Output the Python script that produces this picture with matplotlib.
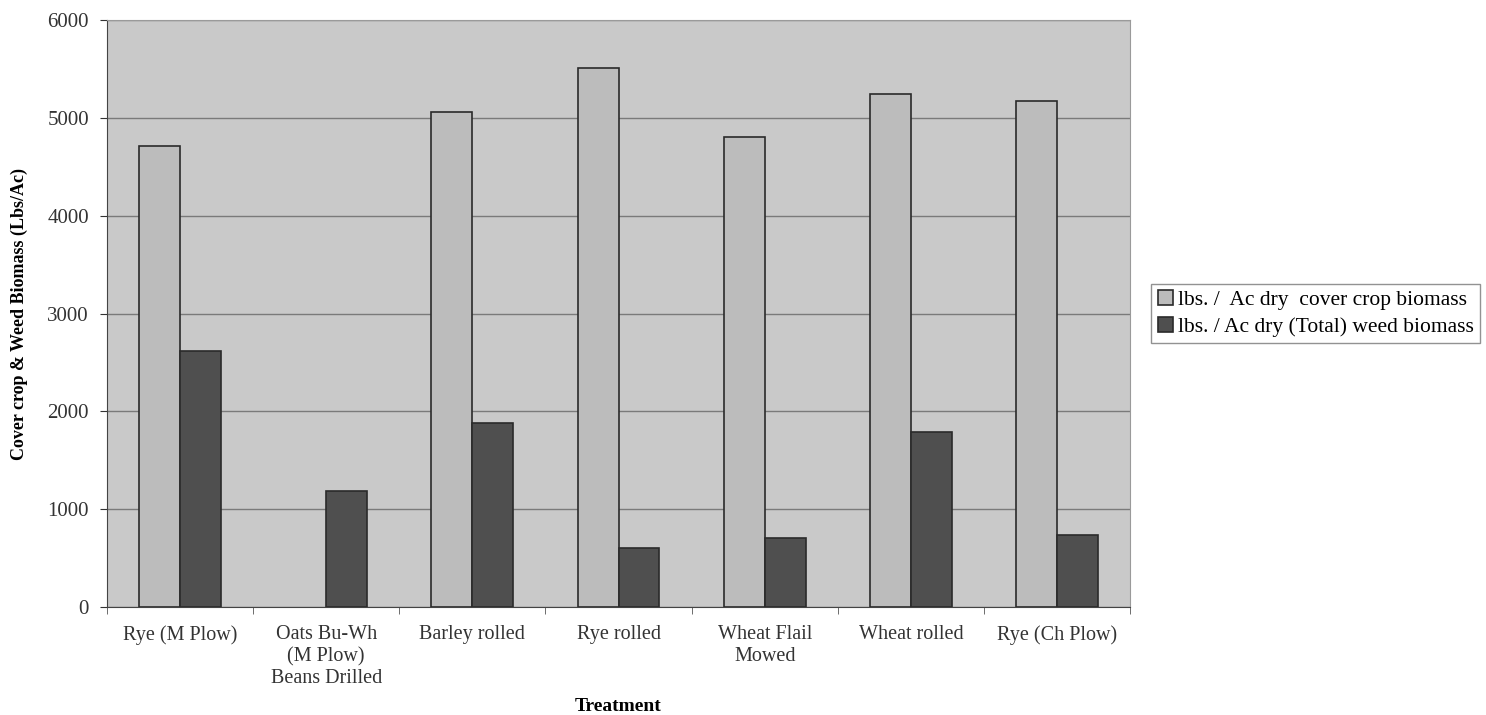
import numpy as np
import matplotlib.pyplot as plt

treatments = ['Rye (M Plow)', 'Oats Bu-Wh\n(M Plow)\nBeans Drilled', 'Barley rolled',
              'Rye rolled', 'Wheat Flail\nMowed', 'Wheat rolled', 'Rye (Ch Plow)']
cover_crop = [4710, 0, 5060, 5510, 4800, 5240, 5170]
weed = [2620, 1190, 1880, 600, 710, 1790, 740]

plt.rcParams['font.family'] = ['Liberation Serif', 'DejaVu Serif']

fig = plt.figure(figsize=(14.86, 7.15), dpi=100)
ax = fig.add_axes([0.072, 0.151, 0.6885, 0.821])
ax.set_facecolor('#c9c9c9')

x = np.arange(len(treatments))
w = 0.28
b1 = ax.bar(x - w / 2, cover_crop, w, color='#bcbcbc', edgecolor='#2a2a2a', linewidth=1.2,
            label='lbs. /  Ac dry  cover crop biomass', zorder=3)
b2 = ax.bar(x + w / 2, weed, w, color='#4f4f4f', edgecolor='#2a2a2a', linewidth=1.2,
            label='lbs. / Ac dry (Total) weed biomass', zorder=3)
# no outline for empty bars
for rect in list(b1) + list(b2):
    if rect.get_height() == 0:
        rect.set_visible(False)

ax.set_xlim(-0.5, len(treatments) - 0.5)
ax.set_ylim(0, 6000)
ax.set_yticks(range(0, 6001, 1000))
ax.yaxis.grid(True, color='#7a7a7a', linewidth=1.0, zorder=1)

ax.set_xticks(x)
ax.set_xticklabels(treatments, fontsize=14.5, color='#333333', linespacing=1.2)
ax.set_xticks(np.arange(-0.5, len(treatments)), minor=True)
ax.tick_params(axis='x', which='major', length=0, pad=13)
ax.tick_params(axis='x', which='minor', length=5, color='#555555')
ax.tick_params(axis='y', labelsize=15, length=5, colors='#333333', pad=8)

for side in ['top', 'right']:
    ax.spines[side].set_color('#9a9a9a')
for side in ['left', 'bottom']:
    ax.spines[side].set_color('#444444')

ax.set_xlabel('Treatment', fontsize=14, fontweight='bold')
ax.xaxis.set_label_coords(0.5, -0.155)
ax.set_ylabel('Cover crop & Weed Biomass (Lbs/Ac)', fontsize=13, fontweight='bold', labelpad=14)

leg = ax.legend(loc='center left', bbox_to_anchor=(1.01, 0.5), fontsize=15.5,
                frameon=True, fancybox=False, handlelength=0.7, handleheight=0.7,
                handletextpad=0.25, borderpad=0.3, labelspacing=0.3)
leg.get_frame().set_edgecolor('#777777')
leg.get_frame().set_linewidth(1.0)

fig.savefig('out.png', dpi=100)
